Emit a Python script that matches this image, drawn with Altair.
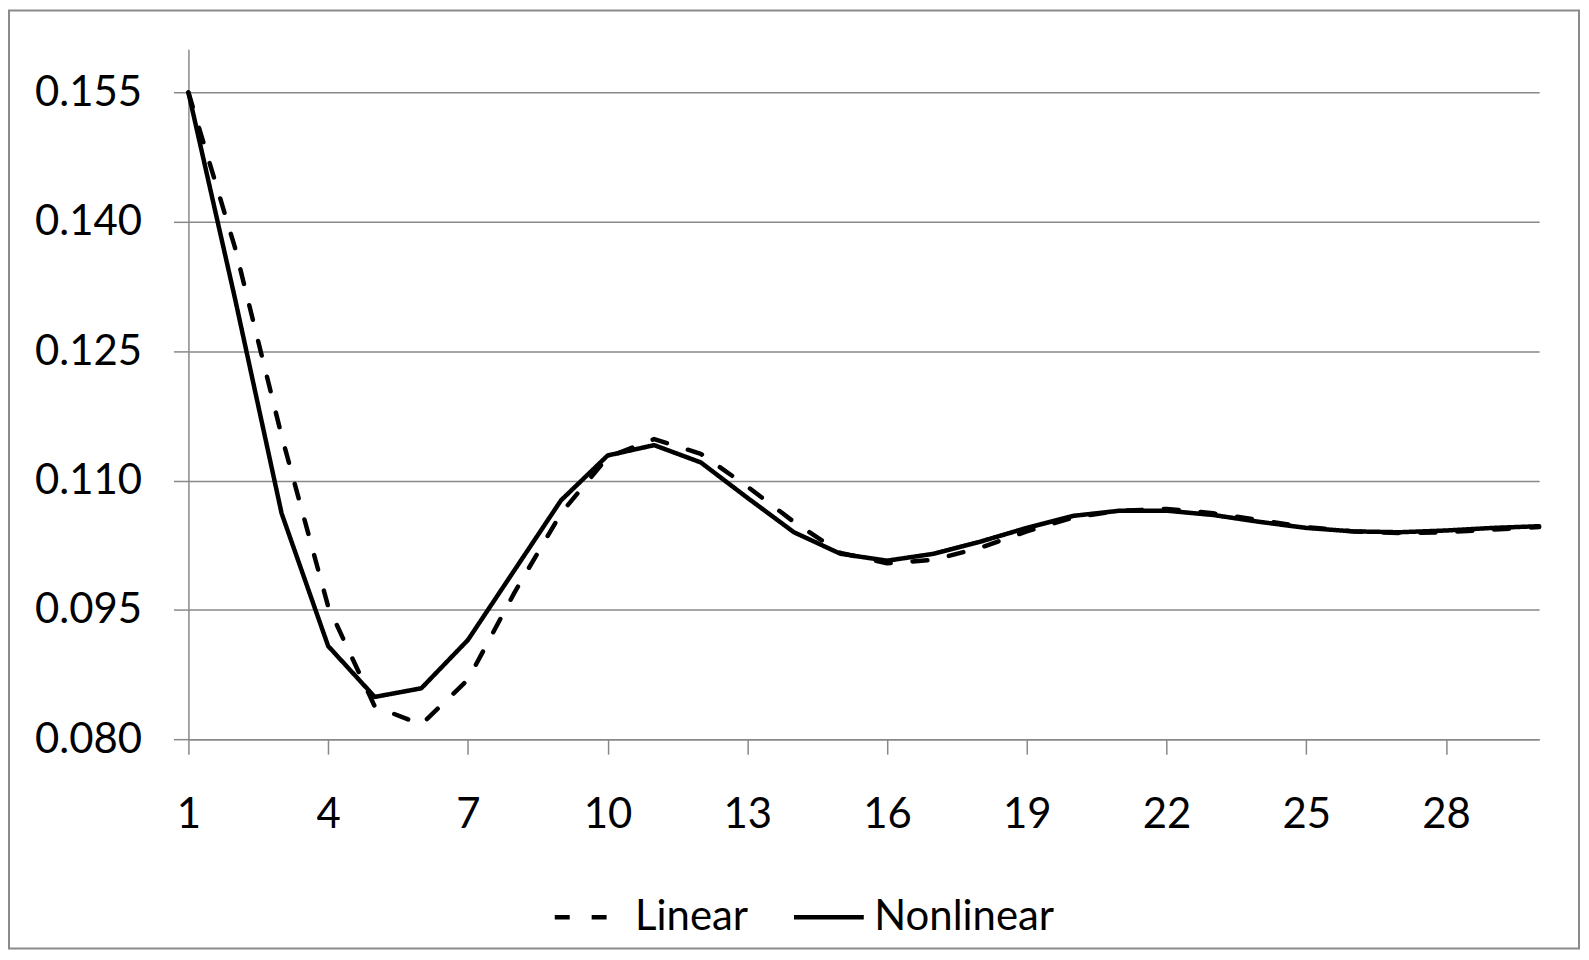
import altair as alt
import pandas as pd

periods = list(range(1, 31))
linear = [0.155, 0.137, 0.1152, 0.0954, 0.0838, 0.0817, 0.0869, 0.0970, 0.1062, 0.1127,
          0.1148, 0.1131, 0.1093, 0.1052, 0.1016, 0.1004, 0.1008, 0.1022, 0.1041, 0.1057,
          0.1065, 0.1067, 0.1062, 0.1054, 0.1046, 0.1041, 0.1039, 0.1040, 0.1043, 0.1046]
nonlinear = [0.155, 0.1311, 0.1062, 0.0908, 0.0849, 0.0859, 0.0915, 0.0996, 0.1077, 0.1129,
             0.1141, 0.1121, 0.1080, 0.1040, 0.1015, 0.1007, 0.1015, 0.1029, 0.1045, 0.1059,
             0.1065, 0.1065, 0.1060, 0.1052, 0.1045, 0.1041, 0.1040, 0.1042, 0.1045, 0.1047]
series_names = ["Linear", "Nonlinear"]
y_ticks = [0.080, 0.095, 0.110, 0.125, 0.140, 0.155]
x_ticks = [1, 4, 7, 10, 13, 16, 19, 22, 25, 28]

rows = []
for name, vals in zip(series_names, [linear, nonlinear]):
    for p, v in zip(periods, vals):
        rows.append({"period": p, "value": v, "series": name})
df = pd.DataFrame(rows)

FONT = "Lato"
FS = 42
W, H = 1355, 692
PAD = {"left": 181, "top": 40, "right": 42, "bottom": 212}

lines = alt.Chart(df).mark_line(strokeWidth=4.5, strokeCap="round", strokeJoin="round", color="black").encode(
    x=alt.X("period:Q",
            scale=alt.Scale(domain=[1, 30], nice=False, zero=False),
            axis=alt.Axis(values=x_ticks, format="d", title=None, grid=False,
                          tickSize=15, tickColor="#888888", tickWidth=1.5,
                          domainColor="#888888", domainWidth=1.5,
                          labelFlush=False, labelOverlap=False,
                          labelPadding=41, labelFontSize=FS, labelFont=FONT,
                          labelColor="black")),
    y=alt.Y("value:Q",
            scale=alt.Scale(domain=[0.08, 0.16], nice=False, zero=False),
            axis=alt.Axis(values=y_ticks, format=".3f", title=None, grid=True,
                          gridColor="#888888", gridWidth=1.5,
                          tickSize=15, tickColor="#888888", tickWidth=1.5,
                          domainColor="#888888", domainWidth=1.5,
                          labelFlush=False, labelOverlap=False,
                          labelPadding=32, labelFontSize=FS, labelFont=FONT,
                          labelColor="black")),
    strokeDash=alt.StrokeDash("series:N",
                              scale=alt.Scale(domain=series_names, range=[[15, 22], [1, 0]]),
                              legend=alt.Legend(title=None, orient="none", direction="horizontal",
                                                legendX=365, legendY=833,
                                                symbolType="stroke", symbolSize=4900,
                                                symbolStrokeWidth=4.5, symbolStrokeColor="black",
                                                labelFontSize=FS, labelFont=FONT, labelColor="black",
                                                labelLimit=600,
                                                labelOffset=8, columnPadding=36)),
    detail="series:N",
)

border = alt.Chart(pd.DataFrame({"a": [0]})).mark_rect(
    fill="transparent", stroke="#8a8a8a", strokeWidth=2
).encode(
    x=alt.value(-180), x2=alt.value(W + PAD["right"] - 2),
    y=alt.value(-39), y2=alt.value(H + PAD["bottom"] - 2),
)

chart = alt.layer(border, lines).properties(
    width=W, height=H, padding=PAD,
    autosize=alt.AutoSizeParams(type="none"),
    background="white",
).configure_view(stroke=None)

chart.save("out.html", embed_options={"renderer": "svg", "actions": False})
